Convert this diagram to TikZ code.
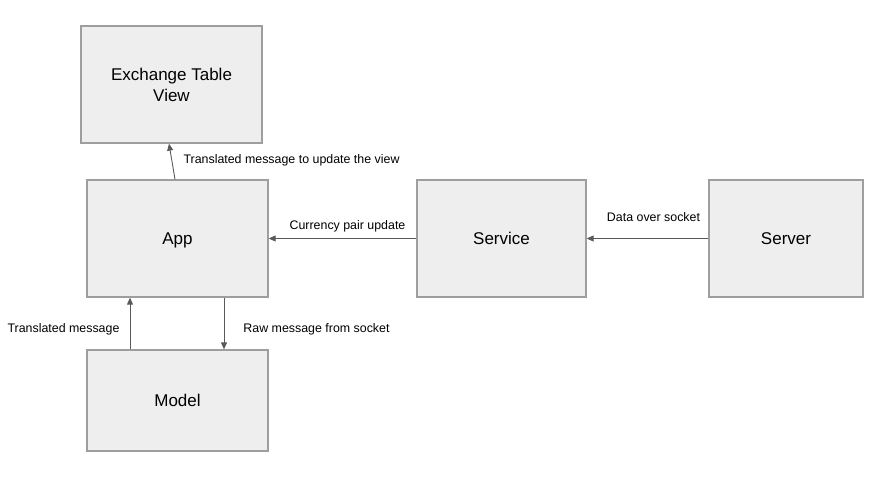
\documentclass[tikz,border=0pt]{standalone}
\usepackage{fontspec}
\setmainfont{Liberation Sans}
\usetikzlibrary{arrows.meta}
\definecolor{boxfill}{HTML}{EEEEEE}
\definecolor{boxline}{HTML}{9E9E9E}
\definecolor{arrcol}{HTML}{595959}
\begin{document}
\begin{tikzpicture}[x=1pt,y=-1pt,
  blk/.style={draw=boxline, fill=boxfill, line width=1.3pt, inner sep=0pt, align=center,
    font=\fontsize{17}{21}\selectfont},
  arr/.style={draw=arrcol, line width=0.9pt, -{Triangle[length=7pt,width=6pt]}},
  lbl/.style={inner sep=0pt, font=\fontsize{12.4}{14}\selectfont}]
\useasboundingbox (0,0) rectangle (877,481);
\node[blk, minimum width=181pt, minimum height=117pt, text depth=-1.5pt] (exch) at (171.5,84.5) {Exchange Table\\View};
\node[blk, minimum width=181pt, minimum height=117pt, text depth=-2pt] (app) at (177.5,238.5) {App};
\node[blk, minimum width=169pt, minimum height=117pt, text depth=-1pt] (serv) at (501.5,238.5) {Service};
\node[blk, minimum width=154pt, minimum height=117pt, text depth=-1pt] (srv) at (786,238.5) {Server};
\node[blk, minimum width=181pt, minimum height=101pt, text depth=-1pt] (model) at (177.5,400.5) {Model};

\draw[arr] ([xshift=-2.5pt]app.north) -- ([xshift=-2.5pt]exch.south);
\draw[arr] (serv.west) -- (app.west -| app.east);
\draw[arr] (srv.west) -- (serv.east);
\draw[arr] ([xshift=-47.5pt]model.north) -- ([xshift=-47.5pt]app.south);
\draw[arr] ([xshift=46.5pt]app.south) -- ([xshift=46.5pt]model.north);

\node[lbl] (l1) at (291.5,160.5) {Translated message to update the view};
\node[lbl] (l2) at (347.5,226.5) {Currency pair update};
\node[lbl] (l3) at (653.5,217) {Data over socket};
\node[lbl] (l4) at (63.5,329.5) {Translated message};
\node[lbl] (l5) at (316.5,329.5) {Raw message from socket};
\end{tikzpicture}
\end{document}
